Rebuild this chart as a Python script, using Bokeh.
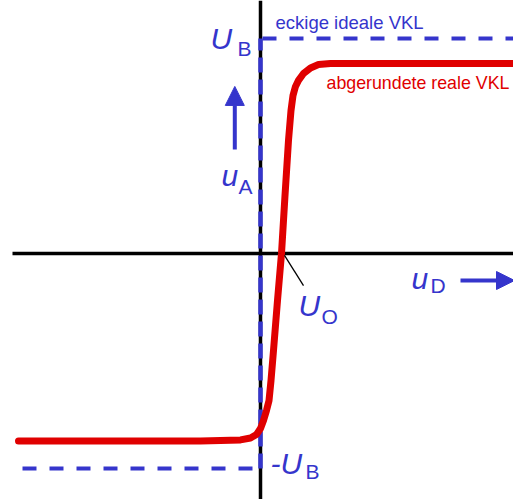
from bokeh.plotting import figure
from bokeh.models import Span, Arrow, NormalHead, Range1d
from bokeh.core.properties import value
from bokeh.embed import file_html
from bokeh.resources import INLINE

# ---- data ----
U_B = 10.0            # supply voltage level (ideal transfer curve)
U_O = 2.1             # offset voltage (zero crossing of the real curve)
# real (rounded) transfer curve u_A(u_D)
real_uD = [-24.2, -6.0, -2.0, -1.0, -0.4, 0.0, 0.3, 0.6, 0.85, 1.05, 1.3, 1.7,
           2.1, 2.45, 2.8, 3.05, 3.25, 3.5, 3.8, 4.3, 5.0, 5.8, 7.0, 25.3]
real_uA = [-8.72, -8.72, -8.67, -8.58, -8.42, -8.14, -7.77, -7.30, -6.84, -5.91,
           -4.51, -2.19, 0.0, 2.70, 5.26, 6.65, 7.35, 7.77, 8.05, 8.37, 8.63,
           8.79, 8.84, 8.84]
# ideal (angular) transfer curve
ideal_left_uD = [-23.8, -0.2]
ideal_right_uD = [0.2, 25.3]

BLUE = "#3535CC"
RED = "#E00000"
FONT = value("Liberation Sans")
PX_PER_Y = 21.5   # vertical pixels per data unit

p = figure(width=513, height=499, output_backend="svg", toolbar_location=None,
           x_range=Range1d(-26.0, 25.3), y_range=Range1d(-11.442, 11.767),
           min_border=0, outline_line_color=None)
p.axis.visible = False
p.grid.visible = False
p.background_fill_color = "white"
p.border_fill_color = "white"

# coordinate axes
p.line(x=[-24.8, 25.3], y=[0, 0], line_color="black", line_width=3.5)
p.add_layout(Span(location=0, dimension="height", line_color="black", line_width=3.5,
                  level="underlay"))

# ideal curve (dashed blue)
p.line(x=[0, 0], y=[-U_B, U_B], line_color=BLUE, line_width=4.5, line_dash="15 7")
p.line(x=ideal_right_uD, y=[U_B, U_B], line_color=BLUE, line_width=4, line_dash="14 13")
p.line(x=ideal_left_uD, y=[-U_B, -U_B], line_color=BLUE, line_width=4, line_dash="14 13")

# real curve (red)
p.line(x=real_uD, y=real_uA, line_color=RED, line_width=7, line_join="round", line_cap="round")

# leader line for U_O
p.line(x=[U_O + 0.3, U_O + 2.2], y=[-0.09, -1.49], line_color="black", line_width=1.3)

# arrows
p.add_layout(Arrow(x_start=-2.57, y_start=4.84, x_end=-2.57, y_end=7.77,
                   line_color=BLUE, line_width=4,
                   end=NormalHead(size=19, fill_color=BLUE, line_color=BLUE, line_width=1)))
p.add_layout(Arrow(x_start=20.0, y_start=-1.256, x_end=25.4, y_end=-1.256,
                   line_color=BLUE, line_width=4,
                   end=NormalHead(size=18, fill_color=BLUE, line_color=BLUE, line_width=1)))

# texts
def label(x, y, t, size, color, style="normal"):
    y_adj = y + 0.33 * size / PX_PER_Y   # baseline correction
    p.text(x=[x], y=[y_adj], text=[t], text_font=FONT, text_font_size=f"{size}px",
           text_color=color, text_font_style=style, text_align="left",
           text_baseline="alphabetic")

label(1.5, 10.47, "eckige ideale VKL", 18.5, BLUE)
label(6.6, 7.67, "abgerundete reale VKL", 17.8, RED)

label(-5.0, 9.53, "U", 30, BLUE, "italic")
label(-2.3, 9.20, "B", 21, BLUE)

label(-3.9, 3.16, "u", 30, BLUE, "italic")
label(-2.2, 2.79, "A", 21, BLUE)

label(15.1, -1.63, "u", 30, BLUE, "italic")
label(17.0, -1.81, "D", 21, BLUE)

label(3.8, -2.88, "U", 30, BLUE, "italic")
label(6.1, -3.26, "O", 21, BLUE)

label(1.0, -10.23, "-U", 30, BLUE, "italic")
label(4.5, -10.47, "B", 21, BLUE)

open("out.html", "w").write(file_html(p, INLINE))
